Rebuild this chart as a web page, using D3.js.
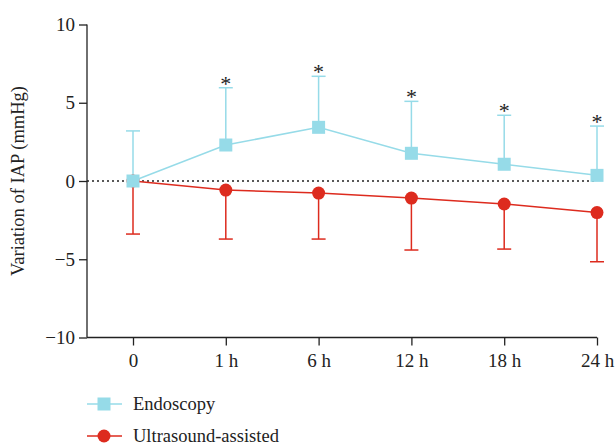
<!DOCTYPE html>
<html>
<head>
    <script src="https://d3js.org/d3.v7.min.js"></script>
    <style>
        body { margin: 0; background: #fff; }
        text { font-family: "Liberation Serif", "DejaVu Serif", serif; fill: #222; }
        .axis path, .axis line { stroke: #222; stroke-width: 1.3px; }
    </style>
</head>
<body>
    <div id="chart"></div>

    <script>
        // Data
        const timepoints = ["0", "1 h", "6 h", "12 h", "18 h", "24 h"];
        const endoMean = [0, 2.3, 3.43, 1.77, 1.07, 0.36];
        const endoSD = [3.2, 3.66, 3.26, 3.32, 3.13, 3.15];
        const usMean = [0, -0.58, -0.77, -1.09, -1.47, -2.02];
        const usSD = [3.39, 3.13, 2.94, 3.32, 2.88, 3.14];
        const significant = [false, true, true, true, true, true];
        const yTicks = [-10, -5, 0, 5, 10];

        const width = 616, height = 447;
        const endoColor = "#96dbe8", usColor = "#dd2b1e";

        const svg = d3.select("#chart")
            .append("svg")
            .attr("width", width)
            .attr("height", height);

        // Scales
        const x = d3.scalePoint().domain(timepoints).range([133, 597]);
        const y = d3.scaleLinear().domain([-10, 10]).range([337.5, 24.5]);

        // Axes
        svg.append("g")
            .attr("class", "axis")
            .attr("transform", "translate(87,0)")
            .call(d3.axisLeft(y).tickValues(yTicks).tickSize(8).tickPadding(4)
                .tickFormat(d => d < 0 ? "\u2212" + Math.abs(d) : d))
            .call(g => g.select(".domain").attr("d", `M0,${y(10)}V${y(-10)}`))
            .call(g => g.selectAll("text").style("font-size", "19px")
                .style("font-family", "Liberation Serif"));

        svg.append("g")
            .attr("class", "axis")
            .attr("transform", `translate(0,${y(-10)})`)
            .call(d3.axisBottom(x).tickSize(8).tickPadding(8))
            .call(g => g.select(".domain").attr("d", `M87,0H${x("24 h")}`))
            .call(g => g.selectAll("text").style("font-size", "19px")
                .style("font-family", "Liberation Serif"));

        // Y label
        svg.append("text")
            .attr("transform", `translate(24,${y(0)}) rotate(-90)`)
            .attr("text-anchor", "middle")
            .style("font-size", "18.5px")
            .text("Variation of IAP (mmHg)");

        // Dotted zero line
        svg.append("line")
            .attr("x1", 87).attr("x2", x("24 h"))
            .attr("y1", y(0)).attr("y2", y(0))
            .attr("stroke", "#222")
            .attr("stroke-width", 1.3)
            .attr("stroke-dasharray", "2,3");

        const capW = 7;

        // Ultrasound-assisted error bars (down)
        const usG = svg.append("g");
        timepoints.forEach((t, i) => {
            const lo = usMean[i] - usSD[i];
            usG.append("line")
                .attr("x1", x(t)).attr("x2", x(t))
                .attr("y1", y(usMean[i])).attr("y2", y(lo))
                .attr("stroke", usColor).attr("stroke-width", 1.5);
            usG.append("line")
                .attr("x1", x(t) - capW).attr("x2", x(t) + capW)
                .attr("y1", y(lo)).attr("y2", y(lo))
                .attr("stroke", usColor).attr("stroke-width", 1.5);
        });

        // Endoscopy error bars (up)
        const enG = svg.append("g");
        timepoints.forEach((t, i) => {
            const hi = endoMean[i] + endoSD[i];
            enG.append("line")
                .attr("x1", x(t)).attr("x2", x(t))
                .attr("y1", y(endoMean[i])).attr("y2", y(hi))
                .attr("stroke", endoColor).attr("stroke-width", 1.5);
            enG.append("line")
                .attr("x1", x(t) - capW).attr("x2", x(t) + capW)
                .attr("y1", y(hi)).attr("y2", y(hi))
                .attr("stroke", endoColor).attr("stroke-width", 1.5);
            if (significant[i]) {
                enG.append("text")
                    .attr("x", x(t)).attr("y", y(hi) + 3)
                    .attr("text-anchor", "middle")
                    .style("font-size", "22px")
                    .text("*");
            }
        });

        const line = d3.line().x((d, i) => x(timepoints[i])).y(d => y(d));

        // Lines
        svg.append("path").datum(usMean)
            .attr("d", line).attr("fill", "none")
            .attr("stroke", usColor).attr("stroke-width", 1.5);
        svg.append("path").datum(endoMean)
            .attr("d", line).attr("fill", "none")
            .attr("stroke", endoColor).attr("stroke-width", 1.5);

        // Markers
        svg.selectAll(".us-dot").data(usMean).enter()
            .append("circle")
            .attr("cx", (d, i) => x(timepoints[i]))
            .attr("cy", d => y(d))
            .attr("r", 6.5)
            .attr("fill", usColor);

        svg.selectAll(".en-sq").data(endoMean).enter()
            .append("rect")
            .attr("x", (d, i) => x(timepoints[i]) - 6.5)
            .attr("y", d => y(d) - 6.5)
            .attr("width", 13).attr("height", 13)
            .attr("fill", endoColor);

        // Legend
        const legend = [
            { name: "Endoscopy", color: endoColor, shape: "square", y: 404 },
            { name: "Ultrasound-assisted", color: usColor, shape: "circle", y: 436 }
        ];
        legend.forEach(l => {
            const g = svg.append("g");
            g.append("line")
                .attr("x1", 87).attr("x2", 122)
                .attr("y1", l.y).attr("y2", l.y)
                .attr("stroke", l.color).attr("stroke-width", 1.5);
            if (l.shape === "square") {
                g.append("rect")
                    .attr("x", 104 - 6.5).attr("y", l.y - 6.5)
                    .attr("width", 13).attr("height", 13)
                    .attr("fill", l.color);
            } else {
                g.append("circle")
                    .attr("cx", 104).attr("cy", l.y).attr("r", 6.5)
                    .attr("fill", l.color);
            }
            g.append("text")
                .attr("x", 133).attr("y", l.y)
                .attr("dy", "0.32em")
                .style("font-size", "18.5px")
                .text(l.name);
        });
    </script>
</body>
</html>
